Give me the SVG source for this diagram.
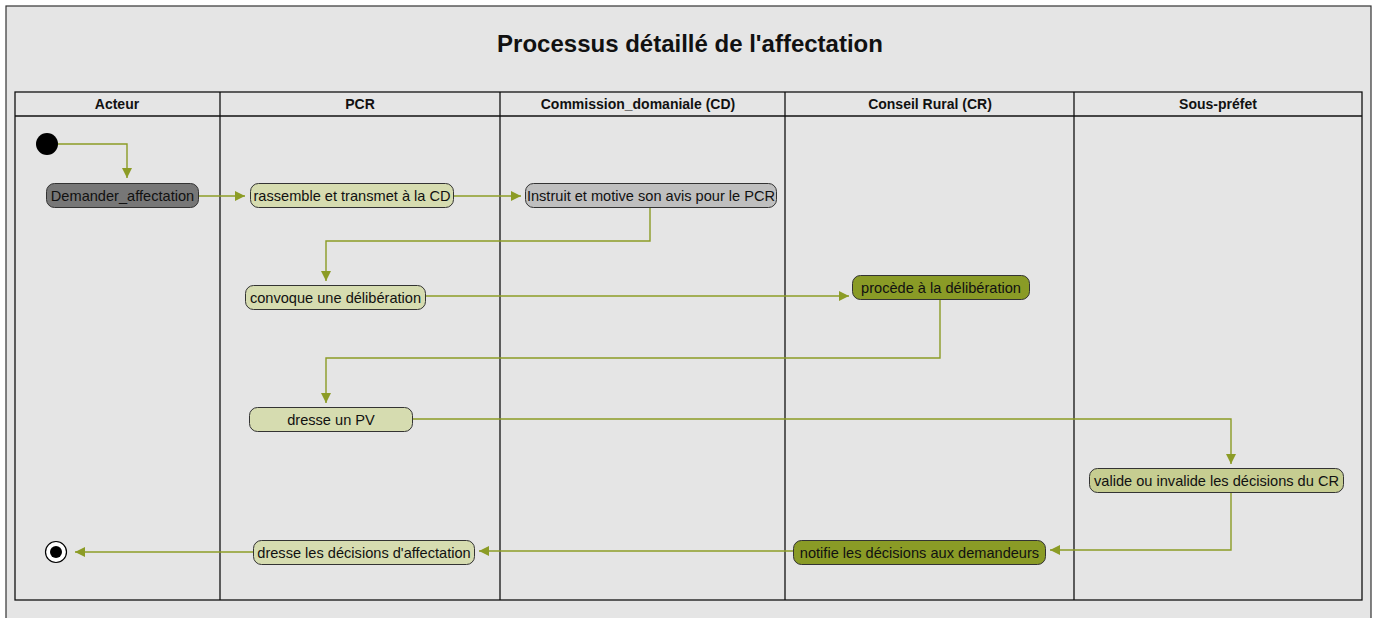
<svg xmlns="http://www.w3.org/2000/svg" width="1375" height="618" viewBox="0 0 1375 618">
<defs>
<marker id="ah" viewBox="0 0 10 10" refX="10" refY="5" markerWidth="10" markerHeight="10" markerUnits="userSpaceOnUse" orient="auto">
<path d="M0,0 L10,5 L0,10 z" fill="#8c9c26"/>
</marker>
</defs>
<style>
.frame{fill:#e5e5e5;stroke:#333;stroke-width:1.2}
.lane{fill:none;stroke:#111;stroke-width:1.3}
.hdr{font-family:"Liberation Sans",Arial,sans-serif;font-size:14px;font-weight:bold;fill:#111;text-anchor:middle}
.title{font-family:"Liberation Sans",Arial,sans-serif;font-size:24px;font-weight:bold;fill:#111;text-anchor:middle}
.lbl{font-family:"Liberation Sans",Arial,sans-serif;font-size:14.6px;fill:#111;text-anchor:middle}
.act{stroke:#333;stroke-width:1}
.light{fill:#d6dcb0}
.mid{fill:#c6cd91}
.dark{fill:#8a9b26}
.grey{fill:#bfbfbf}
.dgrey{fill:#777}
.conn path{fill:none;stroke:#8c9c26;stroke-width:1.4;marker-end:url(#ah)}
</style>
<rect width="1375" height="618" fill="#fff"/>
<rect class="frame" x="6" y="6" width="1365" height="620"/>
<text class="title" x="690" y="52">Processus détaillé de l'affectation</text>
<g id="lanes">
<rect class="lane" x="15" y="92" width="1347" height="508"/>
<line class="lane" x1="15" y1="116" x2="1362" y2="116"/>
<line class="lane" x1="220" y1="92" x2="220" y2="600"/>
<line class="lane" x1="500" y1="92" x2="500" y2="600"/>
<line class="lane" x1="785" y1="92" x2="785" y2="600"/>
<line class="lane" x1="1074" y1="92" x2="1074" y2="600"/>
<text class="hdr" x="117" y="109">Acteur</text>
<text class="hdr" x="360" y="109">PCR</text>
<text class="hdr" x="638" y="109">Commission_domaniale (CD)</text>
<text class="hdr" x="930" y="109">Conseil Rural (CR)</text>
<text class="hdr" x="1218" y="109">Sous-préfet</text>
</g>
<g class="conn" id="connectors">
<path d="M58,144 H127 V178"/>
<path d="M199,196 H245"/>
<path d="M454,196 H521"/>
<path d="M650,208 V241 H326 V281"/>
<path d="M426,296 H849"/>
<path d="M940,300 V358 H326 V403"/>
<path d="M413,419 H1231 V464"/>
<path d="M1231,493 V550 H1050"/>
<path d="M793,551 H479"/>
<path d="M253,552 H75"/>
</g>
<g id="start"><circle cx="47" cy="144" r="11" fill="#000"/></g>
<g id="n1"><rect class="act dgrey" x="46.5" y="183.5" width="152" height="24" rx="8"/><text class="lbl" x="122.5" y="200.5">Demander_affectation</text></g>
<g id="n2"><rect class="act light" x="250.5" y="183.5" width="203" height="24" rx="8"/><text class="lbl" x="352" y="200.5">rassemble et transmet à la CD</text></g>
<g id="n3"><rect class="act grey" x="525.5" y="183.5" width="251" height="24" rx="8"/><text class="lbl" x="651" y="200.5">Instruit et motive son avis pour le PCR</text></g>
<g id="n4"><rect class="act light" x="245.5" y="285.5" width="180" height="24" rx="8"/><text class="lbl" x="335.5" y="302.5">convoque une délibération</text></g>
<g id="n5"><rect class="act dark" x="852.5" y="275.5" width="177" height="24" rx="8"/><text class="lbl" x="941" y="292.5">procède à la délibération</text></g>
<g id="n6"><rect class="act light" x="249.5" y="407.5" width="163" height="24" rx="8"/><text class="lbl" x="331" y="424.5">dresse un PV</text></g>
<g id="n7"><rect class="act mid" x="1089.5" y="468.5" width="254" height="24" rx="8"/><text class="lbl" x="1216.5" y="485.5">valide ou invalide les décisions du CR</text></g>
<g id="n8"><rect class="act dark" x="793.5" y="540.5" width="252" height="24" rx="8"/><text class="lbl" x="919.5" y="557.5">notifie les décisions aux demandeurs</text></g>
<g id="n9"><rect class="act light" x="253.5" y="540.5" width="221" height="24" rx="8"/><text class="lbl" x="364" y="557.5">dresse les décisions d'affectation</text></g>
<g id="end"><circle cx="56" cy="552" r="10.5" fill="#fff" stroke="#000" stroke-width="1.2"/><circle cx="56" cy="552" r="6" fill="#000"/></g>
</svg>
